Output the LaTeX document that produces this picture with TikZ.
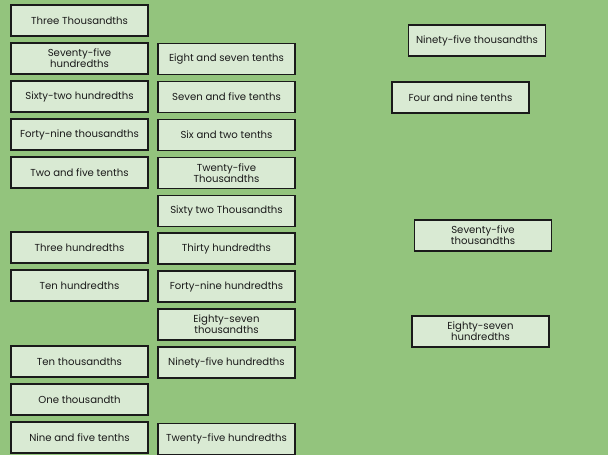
\documentclass[tikz,border=0pt]{standalone}
\usepackage{fontspec}
\setmainfont{Poppins}
\definecolor{board}{HTML}{93C47D}
\definecolor{card}{HTML}{D9EAD3}
\definecolor{ink}{HTML}{1A1A1A}
\tikzset{
	card/.style={draw=ink, fill=card, line width=0.9pt, text=ink,
		minimum width=102.75pt, minimum height=23.25pt, inner sep=1pt,
		align=center, font=\fontsize{7.6}{8.4}\selectfont},
}

\begin{document}
\begin{tikzpicture}[x=0.75pt, y=-0.75pt]
		%%%%% START %%%%%
		
		\fill[board] (0, 0) rectangle (608, 455);
		
		% left column
		\node[card] (threeThou) at (79.5, 20.5) {Three Thousandths};
		\node[card] (sevFiveHun) at (79.5, 58.5) {Seventy-five\\hundredths};
		\node[card] (sixTwoHun) at (79.5, 96.5) {Sixty-two hundredths};
		\node[card] (forNineThou) at (79.5, 134.5) {Forty-nine thousandths};
		\node[card] (twoFiveTen) at (79.5, 172.5) {Two and five tenths};
		\node[card] (threeHun) at (79.5, 247.5) {Three hundredths};
		\node[card] (tenHun) at (79.5, 285.5) {Ten hundredths};
		\node[card] (tenThou) at (79.5, 361.5) {Ten thousandths};
		\node[card] (oneThou) at (79.5, 399.5) {One thousandth};
		\node[card] (nineFiveTen) at (79.5, 437.5) {Nine and five tenths};
		
		% middle column
		\node[card] (eightSevTen) at (226.5, 59) {Eight and seven tenths};
		\node[card] (sevFiveTen) at (226.5, 97) {Seven and five tenths};
		\node[card] (sixTwoTen) at (226.5, 135) {Six and two tenths};
		\node[card] (twFiveThou) at (226.5, 173) {Twenty-five\\Thousandths};
		\node[card] (sixTwoThou) at (226.5, 211) {Sixty two Thousandths};
		\node[card] (thirtyHun) at (226.5, 248.5) {Thirty hundredths};
		\node[card] (forNineHun) at (226.5, 286.5) {Forty-nine hundredths};
		\node[card] (eigSevThou) at (226.5, 324.5) {Eighty-seven\\thousandths};
		\node[card] (ninFiveHun) at (226.5, 362.5) {Ninety-five hundredths};
		\node[card] (twFiveHun) at (226.5, 439) {Twenty-five hundredths};
		
		% right side
		\node[card] (ninFiveThou) at (477, 40.5) {Ninety-five thousandths};
		\node[card] (fourNineTen) at (460.5, 97.5) {Four and nine tenths};
		\node[card] (sevFiveThou) at (483, 235.5) {Seventy-five\\thousandths};
		\node[card] (eigSevHun) at (480.5, 331.5) {Eighty-seven\\hundredths};
		
		%%%%% END %%%%%
\end{tikzpicture}
\end{document}
